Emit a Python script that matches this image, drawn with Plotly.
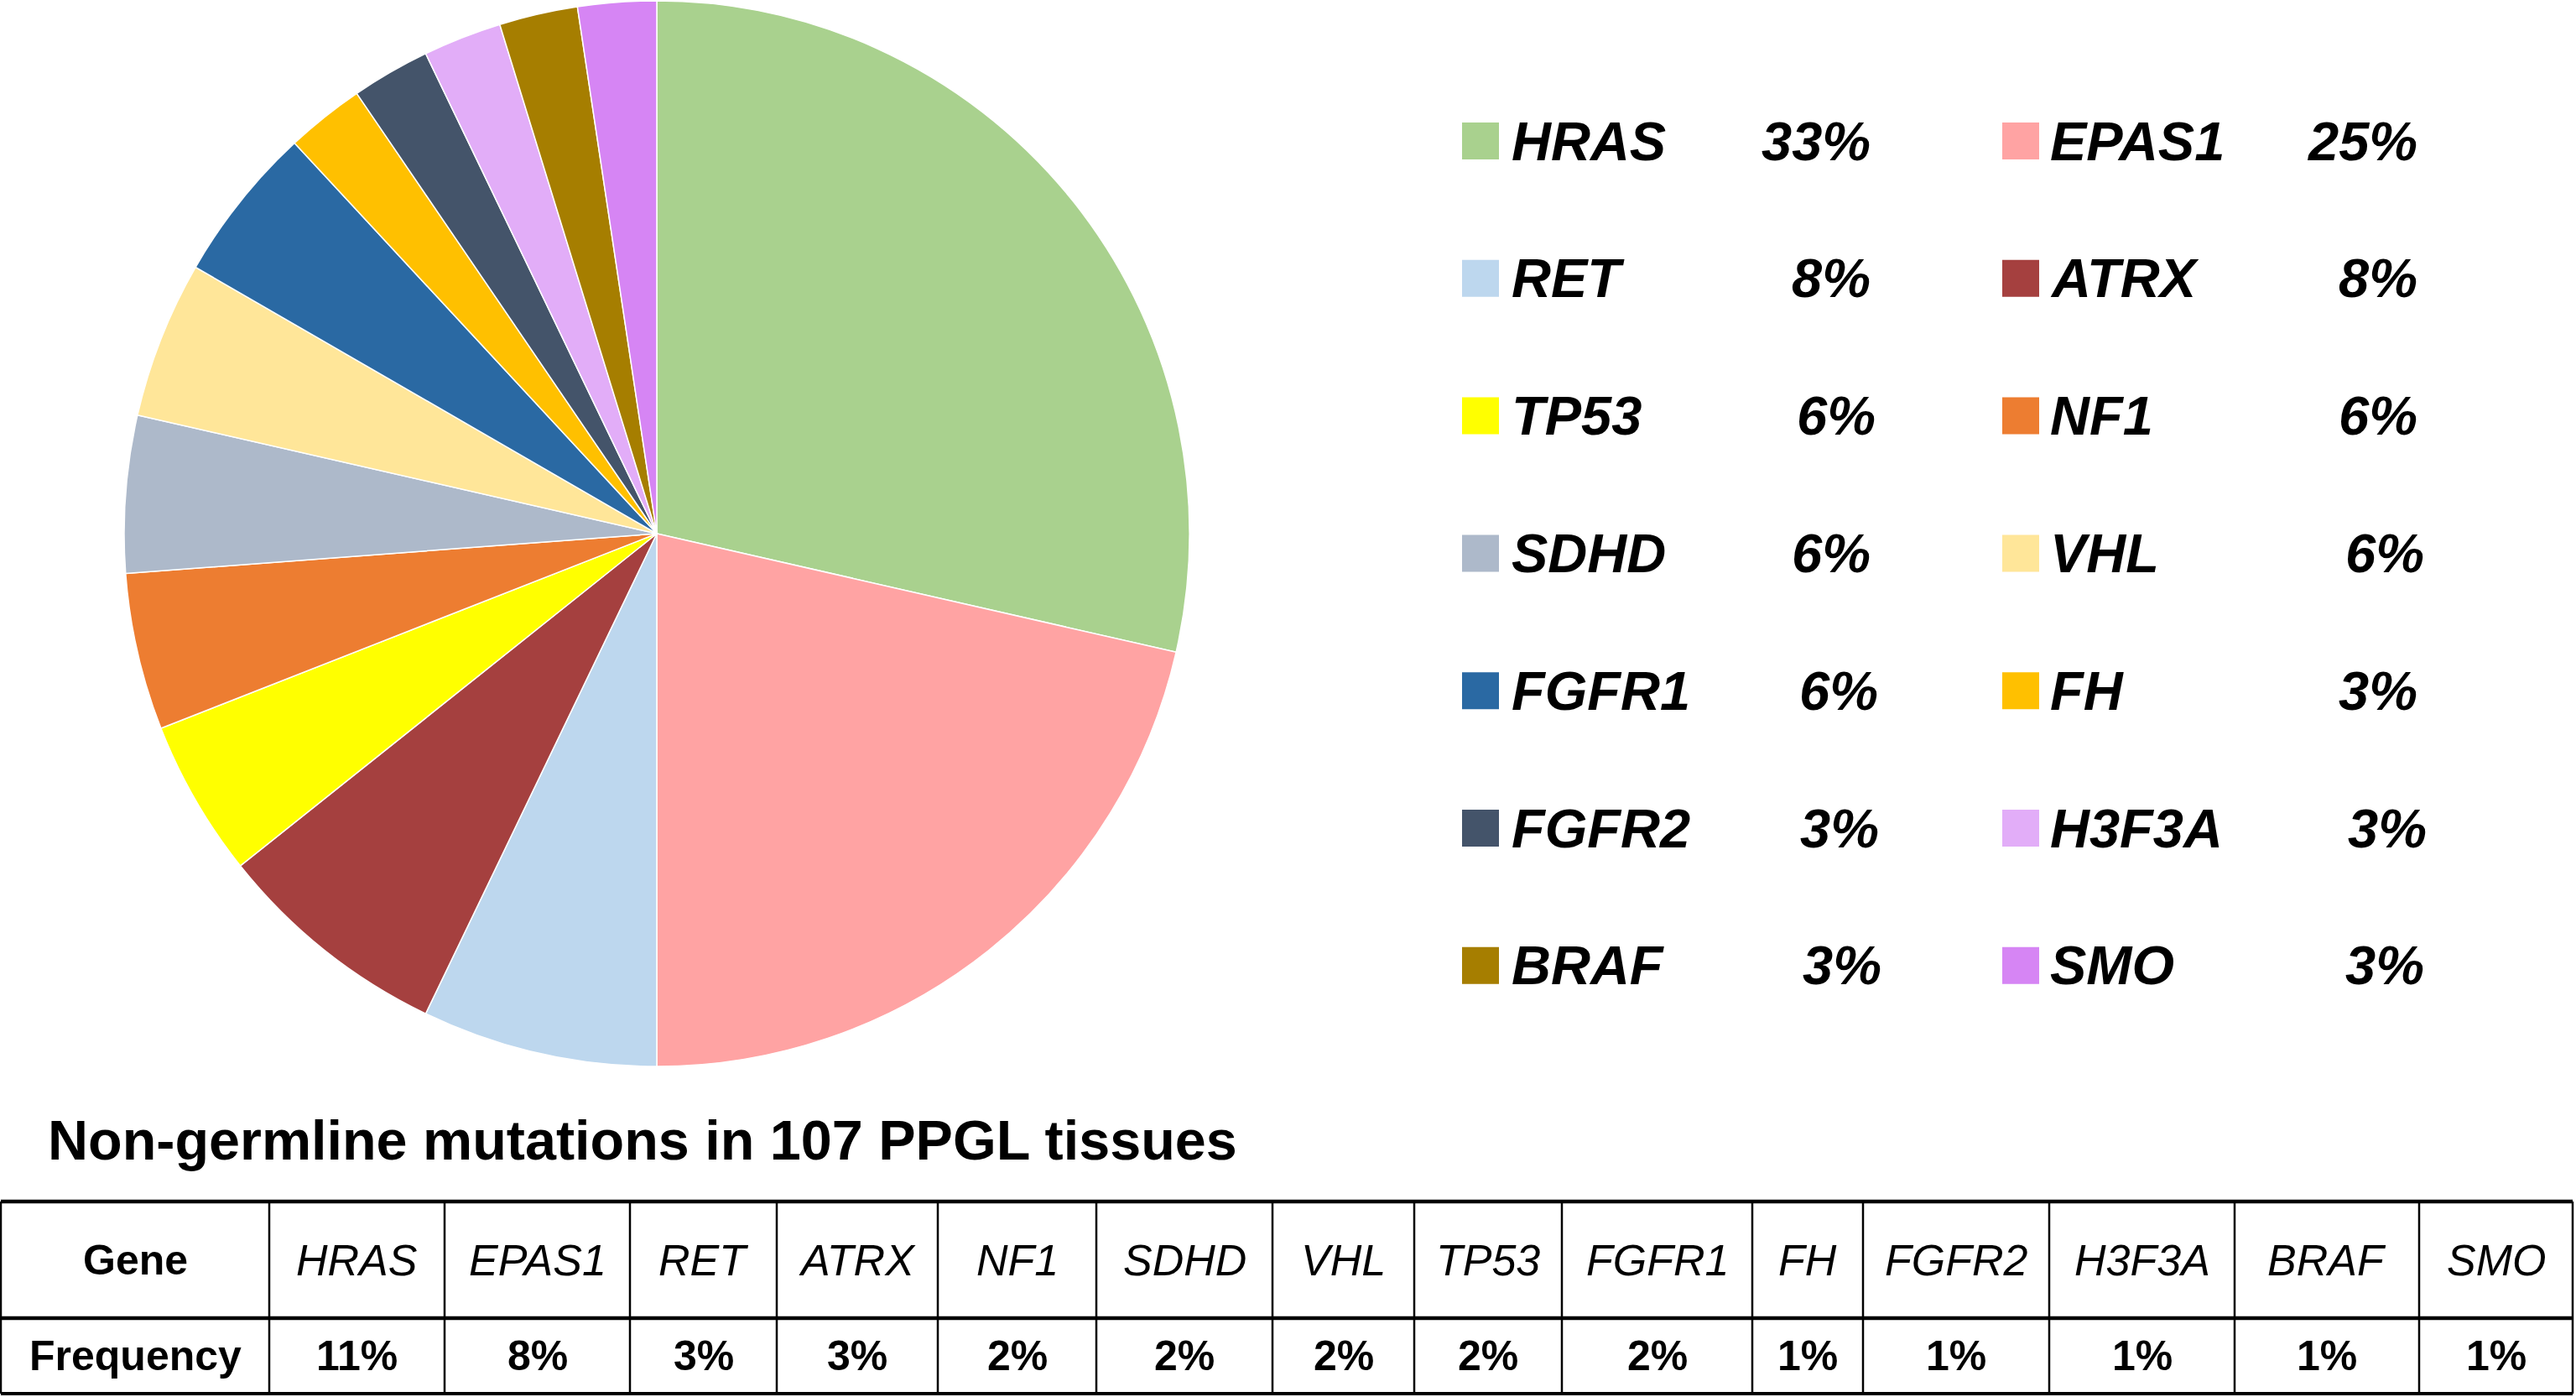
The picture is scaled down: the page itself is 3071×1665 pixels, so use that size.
import plotly.graph_objects as go

# ---------------- data ----------------
genes = ["HRAS", "EPAS1", "RET", "ATRX", "TP53", "NF1", "SDHD", "VHL",
         "FGFR1", "FH", "FGFR2", "H3F3A", "BRAF", "SMO"]
counts = [12, 9, 3, 3, 2, 2, 2, 2, 2, 1, 1, 1, 1, 1]
legend_pct = ["33%", "25%", "8%", "8%", "6%", "6%", "6%", "6%", "6%",
              "3%", "3%", "3%", "3%", "3%"]
colors = ["#A9D18E", "#FFA3A3", "#BDD7EE", "#A5403F", "#FFFF00", "#ED7D31",
          "#ADB9CA", "#FFE699", "#2A69A3", "#FFC000", "#44546A", "#E2ADF8",
          "#A67E00", "#D685F4"]

title_text = "Non-germline mutations in 107 PPGL tissues"
table_row_labels = ["Gene", "Frequency"]
table_genes = ["HRAS", "EPAS1", "RET", "ATRX", "NF1", "SDHD", "VHL", "TP53",
               "FGFR1", "FH", "FGFR2", "H3F3A", "BRAF", "SMO"]
table_freq = ["11%", "8%", "3%", "3%", "2%", "2%", "2%", "2%", "2%",
              "1%", "1%", "1%", "1%", "1%"]

# ---------------- layout geometry (pixels) ----------------
W, H = 3071, 1665
FONT = "Liberation Sans, Arial, sans-serif"

pie_cx, pie_cy, pie_r = 783, 636, 635

leg_sq_x = [1765, 2409]          # square centres per column
leg_txt_x = [1800, 2442]         # gene label left edge
leg_pct_right = [[2232, 2232, 2238, 2232, 2241, 2242, 2245],
                 [2884, 2884, 2884, 2892, 2884, 2895, 2892]]
leg_row_y0, leg_row_dy = 168, 163.8

col_edges = [1, 321, 530, 751, 926, 1118, 1307, 1517, 1686, 1862, 2089,
             2221, 2443, 2664, 2884, 3067]
row_edges = [1432, 1571, 1661]

fig = go.Figure()

# ---------------- pie ----------------
fig.add_trace(go.Pie(
    labels=genes, values=counts, sort=False, direction="clockwise",
    rotation=0, textinfo="none", hoverinfo="label+value",
    marker=dict(colors=colors, line=dict(color="white", width=1.5)),
    domain=dict(x=[(pie_cx - pie_r) / W, (pie_cx + pie_r) / W],
                y=[1 - (pie_cy + pie_r) / H, 1 - (pie_cy - pie_r) / H]),
    showlegend=False,
))

# ---------------- custom two-column legend ----------------
sq_x, sq_y = [], []
annotations = []
for i, g in enumerate(genes):
    col = i % 2
    row = i // 2
    y = leg_row_y0 + row * leg_row_dy
    sq_x.append(leg_sq_x[col])
    sq_y.append(y)
    annotations.append(dict(
        x=leg_txt_x[col], y=y, xref="x", yref="y", text=f"<b><i>{g}</i></b>",
        showarrow=False, xanchor="left", yanchor="middle",
        font=dict(family=FONT, size=65, color="black")))
    annotations.append(dict(
        x=leg_pct_right[col][row], y=y, xref="x", yref="y",
        text=f"<b><i>{legend_pct[i]}</i></b>",
        showarrow=False, xanchor="right", yanchor="middle",
        font=dict(family=FONT, size=65, color="black")))

fig.add_trace(go.Scatter(
    x=sq_x, y=sq_y, mode="markers", hoverinfo="skip", showlegend=False,
    marker=dict(symbol="square", size=44, color=colors, line=dict(width=0)),
    xaxis="x", yaxis="y"))

# ---------------- title of table ----------------
annotations.append(dict(
    x=55, y=1359, xref="x", yref="y", text=f"<b>{title_text}</b>",
    showarrow=False, xanchor="left", yanchor="middle",
    font=dict(family=FONT, size=66.5, color="black")))

# ---------------- table ----------------
shapes = []
for yy, w in zip(row_edges, [4.5, 4.5, 4]):
    shapes.append(dict(type="line", xref="x", yref="y", x0=col_edges[0], x1=col_edges[-1],
                       y0=yy, y1=yy, line=dict(color="black", width=w)))
for xx in col_edges:
    shapes.append(dict(type="line", xref="x", yref="y", x0=xx, x1=xx,
                       y0=row_edges[0], y1=row_edges[-1], line=dict(color="black", width=2.5)))

row_mid = [(row_edges[0] + row_edges[1]) / 2, (row_edges[1] + row_edges[2]) / 2]
col_mid = [(col_edges[k] + col_edges[k + 1]) / 2 for k in range(len(col_edges) - 1)]

annotations.append(dict(x=col_mid[0], y=row_mid[0], xref="x", yref="y",
                        text=f"<b>{table_row_labels[0]}</b>", showarrow=False,
                        xanchor="center", yanchor="middle",
                        font=dict(family=FONT, size=50, color="black")))
annotations.append(dict(x=col_mid[0], y=row_mid[1], xref="x", yref="y",
                        text=f"<b>{table_row_labels[1]}</b>", showarrow=False,
                        xanchor="center", yanchor="middle",
                        font=dict(family=FONT, size=50, color="black")))
for k, (g, f) in enumerate(zip(table_genes, table_freq)):
    annotations.append(dict(x=col_mid[k + 1], y=row_mid[0], xref="x", yref="y",
                            text=f"<i>{g}</i>", showarrow=False,
                            xanchor="center", yanchor="middle",
                            font=dict(family=FONT, size=52, color="black")))
    annotations.append(dict(x=col_mid[k + 1], y=row_mid[1], xref="x", yref="y",
                            text=f"<b>{f}</b>", showarrow=False,
                            xanchor="center", yanchor="middle",
                            font=dict(family=FONT, size=50, color="black")))

fig.update_layout(
    width=W, height=H,
    margin=dict(l=0, r=0, t=0, b=0, pad=0),
    paper_bgcolor="white", plot_bgcolor="rgba(0,0,0,0)",
    xaxis=dict(range=[0, W], domain=[0, 1], visible=False, fixedrange=True),
    yaxis=dict(range=[H, 0], domain=[0, 1], visible=False, fixedrange=True),
    shapes=shapes, annotations=annotations,
    font=dict(family=FONT),
)

fig.write_html("out.html",
               config={"displayModeBar": False},
               post_script="document.body.style.margin='0';document.body.style.overflow='hidden';")
